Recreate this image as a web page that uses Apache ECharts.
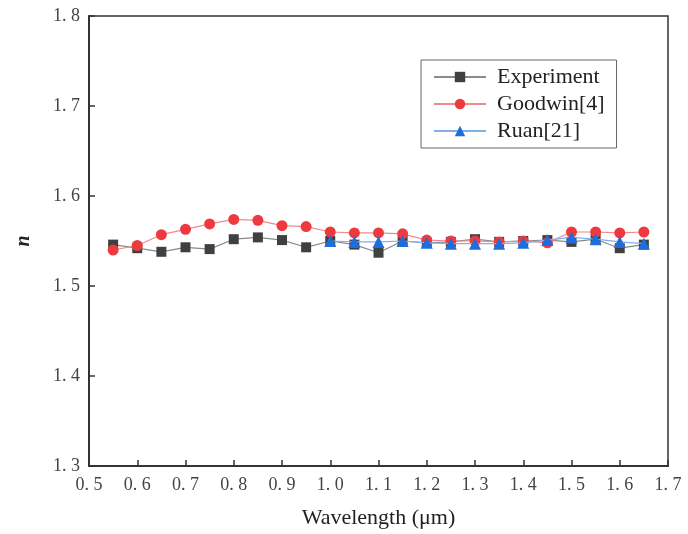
<!DOCTYPE html>
<html>
<head>
<meta charset="utf-8">
<script src="https://cdn.jsdelivr.net/npm/echarts@6/dist/echarts.min.js"></script>
<style>html,body{margin:0;padding:0;background:#fff}#c{width:688px;height:534px}</style>
</head>
<body>
<div id="c"></div>
<script>
var wavelengthExp = [0.55,0.60,0.65,0.70,0.75,0.80,0.85,0.90,0.95,1.00,1.05,1.10,1.15,1.20,1.25,1.30,1.35,1.40,1.45,1.50,1.55,1.60,1.65];
var experiment = [1.546,1.542,1.538,1.543,1.541,1.552,1.554,1.551,1.543,1.550,1.546,1.537,1.550,1.548,1.549,1.552,1.549,1.550,1.551,1.549,1.552,1.542,1.546];
var goodwin = [1.540,1.545,1.557,1.563,1.569,1.574,1.573,1.567,1.566,1.560,1.559,1.559,1.558,1.551,1.550,1.550,1.549,1.550,1.548,1.560,1.560,1.559,1.560];
var wavelengthRuan = [1.00,1.05,1.10,1.15,1.20,1.25,1.30,1.35,1.40,1.45,1.50,1.55,1.60,1.65];
var ruan = [1.550,1.549,1.549,1.550,1.548,1.547,1.547,1.547,1.548,1.551,1.554,1.552,1.549,1.547];
var seriesNames = ['Experiment','Goodwin[4]','Ruan[21]'];

function pair(xs, ys){ return xs.map(function(x,i){ return [x, ys[i]]; }); }
function fmt(v){ return v.toFixed(1).replace('.', '. '); }
var serif = '"Liberation Serif","DejaVu Serif",serif';

var chart = echarts.init(document.getElementById('c'));
chart.setOption({
  animation: false,
  backgroundColor: '#fff',
  grid: {left: 89, right: 20, top: 16, bottom: 67, show: true, borderColor: '#333', borderWidth: 1.5},
  legend: {
    orient: 'vertical', left: 421, top: 60,
    borderColor: '#666', borderWidth: 1, padding: [6, 12, 6, 12],
    itemWidth: 52, itemHeight: 13, itemGap: 5,
    textStyle: {fontFamily: serif, fontSize: 22, color: '#222', padding: [0, 0, 0, 6]},
    data: seriesNames
  },
  xAxis: {
    type: 'value', min: 0.5, max: 1.7, interval: 0.1,
    name: 'Wavelength (μm)', nameLocation: 'middle', nameGap: 41,
    nameTextStyle: {fontFamily: serif, fontSize: 22, color: '#222'},
    axisLine: {lineStyle: {color: '#333', width: 2}},
    axisTick: {inside: true, length: 6, lineStyle: {color: '#333', width: 1.5}},
    axisLabel: {formatter: fmt, fontFamily: serif, fontSize: 18, color: '#444', margin: 10},
    splitLine: {show: false}
  },
  yAxis: {
    type: 'value', min: 1.3, max: 1.8, interval: 0.1,
    name: 'n', nameLocation: 'middle', nameGap: 55, nameRotate: 90,
    nameTextStyle: {fontFamily: serif, fontSize: 20, fontStyle: 'italic', fontWeight: 'bold', color: '#222'},
    axisLine: {lineStyle: {color: '#333', width: 2}},
    axisTick: {inside: true, length: 6, lineStyle: {color: '#333', width: 1.5}},
    axisLabel: {formatter: fmt, fontFamily: serif, fontSize: 18, color: '#444', margin: 9},
    splitLine: {show: false}
  },
  series: [
    {
      name: seriesNames[0], type: 'line', data: pair(wavelengthExp, experiment), z: 3,
      symbol: 'rect', symbolSize: 10,
      lineStyle: {color: '#8a8a8a', width: 1.2},
      itemStyle: {color: '#404040'}
    },
    {
      name: seriesNames[1], type: 'line', data: pair(wavelengthExp, goodwin), z: 4,
      symbol: 'circle', symbolSize: 11,
      lineStyle: {color: '#f08a8a', width: 1.2},
      itemStyle: {color: '#ee3a3f'}
    },
    {
      name: seriesNames[2], type: 'line', data: pair(wavelengthRuan, ruan), z: 5,
      symbol: 'triangle', symbolSize: 12,
      lineStyle: {color: '#7fb0ee', width: 1.2},
      itemStyle: {color: '#1e6ddc'}
    }
  ]
});
</script>
</body>
</html>
